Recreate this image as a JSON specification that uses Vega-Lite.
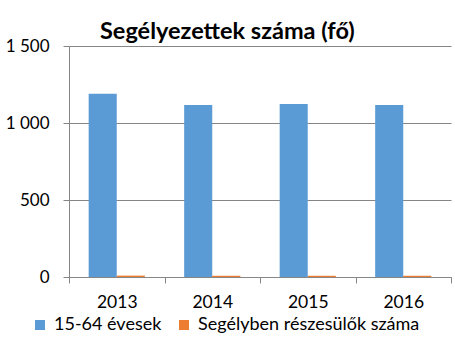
{
  "$schema": "https://vega.github.io/schema/vega-lite/v6.json",
  "width": 382,
  "height": 231,
  "autosize": "none",
  "padding": {"left": 69, "top": 46, "right": 4, "bottom": 77},
  "background": "white",
  "title": {
    "text": "Segélyezettek száma (fő)",
    "font": "Lato",
    "fontSize": 23.5,
    "fontWeight": "bold",
    "color": "black",
    "anchor": "start",
    "frame": "group",
    "dx": 31,
    "offset": -6
  },
  "data": {
    "values": [
      {"year": "2013", "series": "15-64 évesek", "value": 1190},
      {"year": "2013", "series": "Segélyben részesülők száma", "value": 9},
      {"year": "2014", "series": "15-64 évesek", "value": 1117},
      {"year": "2014", "series": "Segélyben részesülők száma", "value": 8},
      {"year": "2015", "series": "15-64 évesek", "value": 1123},
      {"year": "2015", "series": "Segélyben részesülők száma", "value": 8},
      {"year": "2016", "series": "15-64 évesek", "value": 1117},
      {"year": "2016", "series": "Segélyben részesülők száma", "value": 8}
    ]
  },
  "mark": {"type": "bar"},
  "encoding": {
    "x": {
      "field": "year",
      "type": "nominal",
      "scale": {"paddingInner": 0, "paddingOuter": 0},
      "axis": {
        "title": null,
        "labelAngle": 0,
        "tickBand": "extent",
        "domainColor": "#868686",
        "tickColor": "#868686",
        "tickSize": 6,
        "labelFont": "Lato",
        "labelFontSize": 17.5,
        "labelColor": "black",
        "labelPadding": 10,
        "grid": false
      }
    },
    "xOffset": {
      "field": "series",
      "type": "nominal",
      "scale": {"paddingInner": 0, "paddingOuter": 0.7}
    },
    "y": {
      "field": "value",
      "type": "quantitative",
      "scale": {"domain": [0, 1500], "nice": false},
      "axis": {
        "title": null,
        "values": [0, 500, 1000, 1500],
        "labelExpr": "replace(format(datum.value, ','), ',', ' ')",
        "grid": true,
        "gridColor": "#868686",
        "domain": true,
        "domainColor": "#868686",
        "tickColor": "#868686",
        "tickSize": 6,
        "labelPadding": 14,
        "labelFont": "Lato",
        "labelFontSize": 17,
        "labelColor": "black"
      }
    },
    "color": {
      "field": "series",
      "type": "nominal",
      "scale": {
        "domain": ["15-64 évesek", "Segélyben részesülők száma"],
        "range": ["#5B9BD5", "#ED7D31"]
      },
      "legend": {
        "title": null,
        "orient": "none",
        "direction": "horizontal",
        "legendX": -38,
        "legendY": 270,
        "symbolType": "square",
        "symbolSize": 100,
        "symbolStrokeWidth": 0,
        "labelFont": "Lato",
        "labelFontSize": 18,
        "labelColor": "black",
        "labelLimit": 300,
        "labelOffset": 5,
        "columnPadding": 13
      }
    }
  },
  "config": {"view": {"stroke": null}}
}
